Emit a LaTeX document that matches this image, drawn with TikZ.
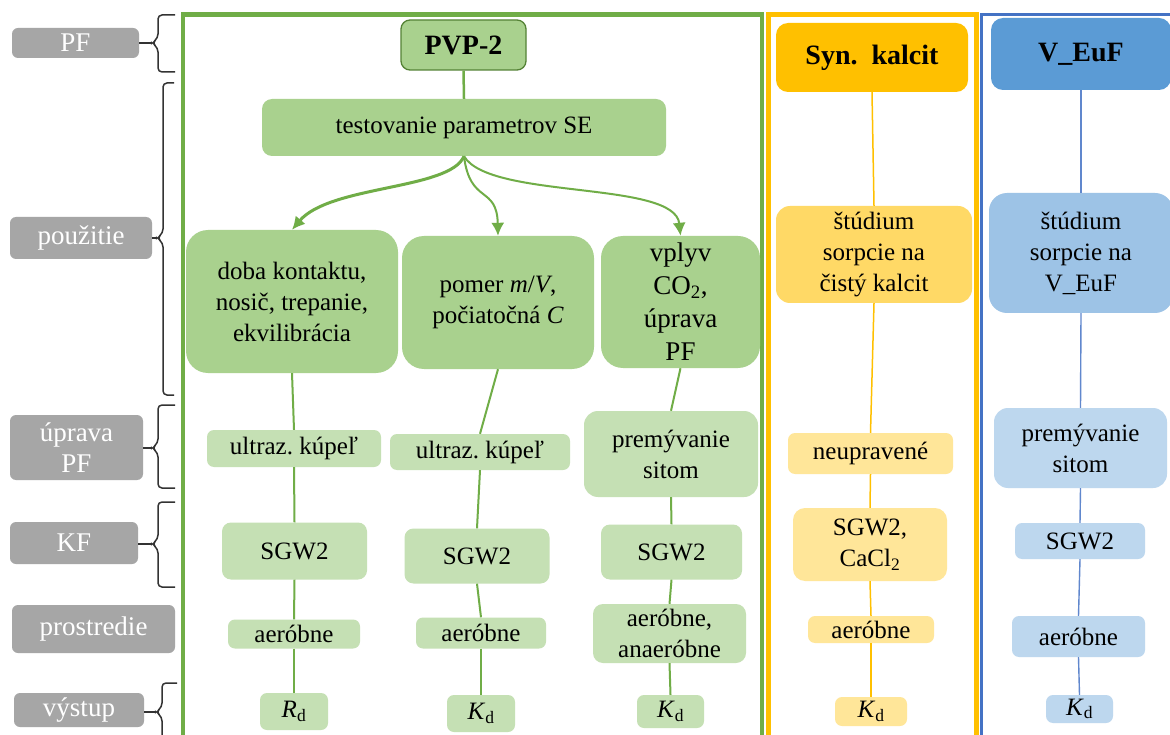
\documentclass[tikz,border=0pt]{standalone}
\usepackage{fontspec}
\setmainfont{Liberation Serif}
\usetikzlibrary{arrows.meta}
\definecolor{gframe}{HTML}{70AD47}
\definecolor{gdark}{HTML}{A9D18E}
\definecolor{glight}{HTML}{C5E0B4}
\definecolor{gborder}{HTML}{548235}
\definecolor{yframe}{HTML}{FFC000}
\definecolor{ymid}{HTML}{FFD966}
\definecolor{ylight}{HTML}{FFE699}
\definecolor{bframe}{HTML}{4472C4}
\definecolor{bdark}{HTML}{5B9BD5}
\definecolor{bmid}{HTML}{9DC3E6}
\definecolor{blight}{HTML}{BDD7EE}
\definecolor{lgray}{HTML}{A6A6A6}
\definecolor{brgray}{HTML}{333333}
\newcommand{\mybrc}[5]{\draw[brc] (#1,#3) -- (#2,#3) -- (#2,#5-5) -- (#2-6,#5) -- (#2,#5+5) -- (#2,#4) -- (#1,#4);}
\tikzset{
  wh/.style 2 args={minimum width=#1pt, minimum height=#2pt},
  box/.style={rounded corners=#1, align=center, inner sep=0pt, text=black,
    font=\fontsize{25}{31}\selectfont},
  box/.default=8pt,
  gbig/.style={box=22pt, fill=gdark},
  gsmall/.style={box=7pt, fill=glight},
  ymidbox/.style={box=14pt, fill=ymid},
  ysmall/.style={box=7pt, fill=ylight},
  bmidbox/.style={box=18pt, fill=bmid},
  bsmall/.style={box=7pt, fill=blight},
  title/.style={align=center, inner sep=0pt, text=black,
    font=\fontsize{28}{32}\selectfont\bfseries},
  lab/.style={rounded corners=6pt, fill=lgray, text=white, align=center, inner sep=0pt,
    font=\fontsize{27}{31}\selectfont},
  brc/.style={draw=brgray, line width=1.5pt, rounded corners=4pt},
  gline/.style={draw=gframe, line width=2pt},
  yline/.style={draw=yframe, line width=1.5pt},
  bline/.style={draw=bframe!85, line width=1.4pt},
  garr/.style={draw=gframe, -{Latex[length=13pt,width=13pt]}},
}
\begin{document}
\begin{tikzpicture}[x=1pt,y=-1pt]
\useasboundingbox (0,0) rectangle (1170,735);
\fill[white] (0,0) rectangle (1170,735);
\clip (0,0) rectangle (1170,735);
% frames
\draw[gframe, line width=4.5pt] (183,14.5) rectangle (762,800);
\draw[yframe, line width=5pt] (768,14.5) rectangle (976,800);
\draw[bframe, line width=3pt] (981.5,15) rectangle (1200,800);
% left labels
\node[lab, wh={127}{30}] (lPF) at (75.5,43) {PF};
\node[lab, wh={142}{42}] (lpou) at (81,238) {použitie};
\node[lab, wh={133}{65}] (lupr) at (76.5,447.5) {úprava\\PF};
\node[lab, wh={128}{42}] (lKF) at (74,543) {KF};
\node[lab, wh={163}{48}] (lpro) at (93.5,629) {prostredie};
\node[lab, wh={130}{34}] (lvys) at (79,710) {výstup};
% braces
\mybrc{175}{158}{15}{72}{43}
\coordinate (tPF) at (152,43);
\draw[brc] (lPF.east) -- (tPF);
\mybrc{174}{163}{83}{395}{238}
\coordinate (tpou) at (157,238);
\draw[brc] (lpou.east) -- (tpou);
\mybrc{175}{158}{405}{488}{448}
\coordinate (tupr) at (152,448);
\draw[brc] (lupr.east |- tupr) -- (tupr);
\mybrc{175}{158}{502}{587}{544}
\coordinate (tKF) at (152,544);
\draw[brc] (lKF.east |- tKF) -- (tKF);
\mybrc{177}{162}{683}{780}{712}
\coordinate (tvys) at (156,712);
\draw[brc] (lvys.east |- tvys) -- (tvys);
% green column
\node[title, fill=gdark, draw=gborder, line width=1.3pt, rounded corners=9pt, wh={125}{50}] (pvp) at (463.5,45) {PVP-2};
\node[box=10pt, fill=gdark, wh={404}{57}] (test) at (464,127.5) {testovanie parametrov SE};
\node[gbig, wh={212}{143}] (b1) at (292,301.5) {doba kontaktu,\\nosič, trepanie,\\ekvilibrácia};
\node[gbig, wh={192}{133}] (b2) at (498,302.5) {pomer \textit{m}/\textit{V},\\počiatočná \textit{C}};
\node[gbig, wh={159}{132}, font=\fontsize{27}{33}\selectfont] (b3) at (680.5,302) {vplyv\\CO\textsubscript{2},\\úprava\\PF};
\node[gsmall, wh={174}{37}] (u1) at (294,448.5) {ultraz.\ kúpeľ};
\node[gsmall, wh={180}{36}] (u2) at (480,452) {ultraz.\ kúpeľ};
\node[gsmall, box=14pt, fill=glight, wh={174}{86}] (pr) at (671,454) {premývanie\\sitom};
\node[gsmall, box=9pt, fill=glight, wh={145}{57}] (s1) at (294.5,551) {SGW2};
\node[gsmall, box=9pt, fill=glight, wh={145}{55}] (s2) at (477,556) {SGW2};
\node[gsmall, box=9pt, fill=glight, wh={141}{55}] (s3) at (671.5,552) {SGW2};
\node[gsmall, wh={132}{29}] (a1) at (294,634) {aeróbne};
\node[gsmall, wh={130}{31}] (a2) at (481,633) {aeróbne};
\node[gsmall, box=10pt, fill=glight, wh={153}{59}] (a3) at (669.5,633.5) {aeróbne,\\anaeróbne};
\node[gsmall, wh={68}{37}] (r1) at (294,711.5) {\textit{R}\textsubscript{d}};
\node[gsmall, wh={68}{37}] (k2) at (481,713.5) {\textit{K}\textsubscript{d}};
\node[gsmall, wh={67}{33}] (k3) at (670.5,711.5) {\textit{K}\textsubscript{d}};
\draw[gline, line width=2.5pt] (pvp.south) -- (test.north);
\draw[garr, line width=3pt] (test.south) .. controls (450,190) and (330,185) .. (b1.north);
\draw[garr, line width=2pt] (test.south) .. controls (470,205) and (497,185) .. (b2.north);
\draw[garr, line width=2pt] (test.south) .. controls (490,200) and (675,180) .. (b3.north);
\draw[gline] (b1.south) -- (u1.north);
\draw[gline] (u1.south) -- (s1.north);
\draw[gline] (s1.south) -- (a1.north);
\draw[gline] (a1.south) -- (r1.north);
\draw[gline] (b2.south) -- (u2.north);
\draw[gline] (u2.south) -- (s2.north);
\draw[gline] (s2.south) -- (a2.north);
\draw[gline] (a2.south) -- (k2.north);
\draw[gline] (b3.south) -- (pr.north);
\draw[gline] (pr.south) -- (s3.north);
\draw[gline] (s3.south) -- (a3.north);
\draw[gline] (a3.south) -- (k3.north);
% yellow column
\node[title, fill=yframe, rounded corners=12pt, wh={192}{69}] (syn) at (872,57.5) {Syn.\ \ kalcit};
\node[ymidbox, wh={196}{97}] (ys) at (874,254.5) {štúdium\\sorpcie na\\čistý kalcit};
\node[ysmall, wh={165}{41}] (yn) at (870.5,453.5) {neupravené};
\node[ysmall, box=12pt, fill=ylight, wh={154}{73}] (yc) at (870,544.5) {SGW2,\\CaCl\textsubscript{2}};
\node[ysmall, wh={126}{27}] (ya) at (871,629.5) {aeróbne};
\node[ysmall, wh={72}{29}] (yk) at (871,711.5) {\textit{K}\textsubscript{d}};
\draw[yline] (syn.south) -- (ys.north);
\draw[yline] (ys.south) -- (yn.north);
\draw[yline] (yn.south) -- (yc.north);
\draw[yline] (yc.south) -- (ya.north);
\draw[yline] (ya.south) -- (yk.north);
% blue column
\node[title, fill=bdark, rounded corners=12pt, wh={180}{72}] (vef) at (1081,54) {V\_EuF};
\node[bmidbox, wh={184}{120}] (bs) at (1081,253) {štúdium\\sorpcie na\\V\_EuF};
\node[bsmall, box=14pt, fill=blight, wh={173}{80}] (bp) at (1080.5,448) {premývanie\\sitom};
\node[bsmall, wh={130}{36}] (bsg) at (1080,541) {SGW2};
\node[bsmall, wh={133}{41}] (ba) at (1078.5,636.5) {aeróbne};
\node[bsmall, wh={67}{28}] (bk) at (1079.5,709) {\textit{K}\textsubscript{d}};
\draw[bline] (vef.south) -- (bs.north);
\draw[bline] (bs.south) -- (bp.north);
\draw[bline] (bp.south) -- (bsg.north);
\draw[bline] (bsg.south) -- (ba.north);
\draw[bline] (ba.south) -- (bk.north);
\end{tikzpicture}
\end{document}
